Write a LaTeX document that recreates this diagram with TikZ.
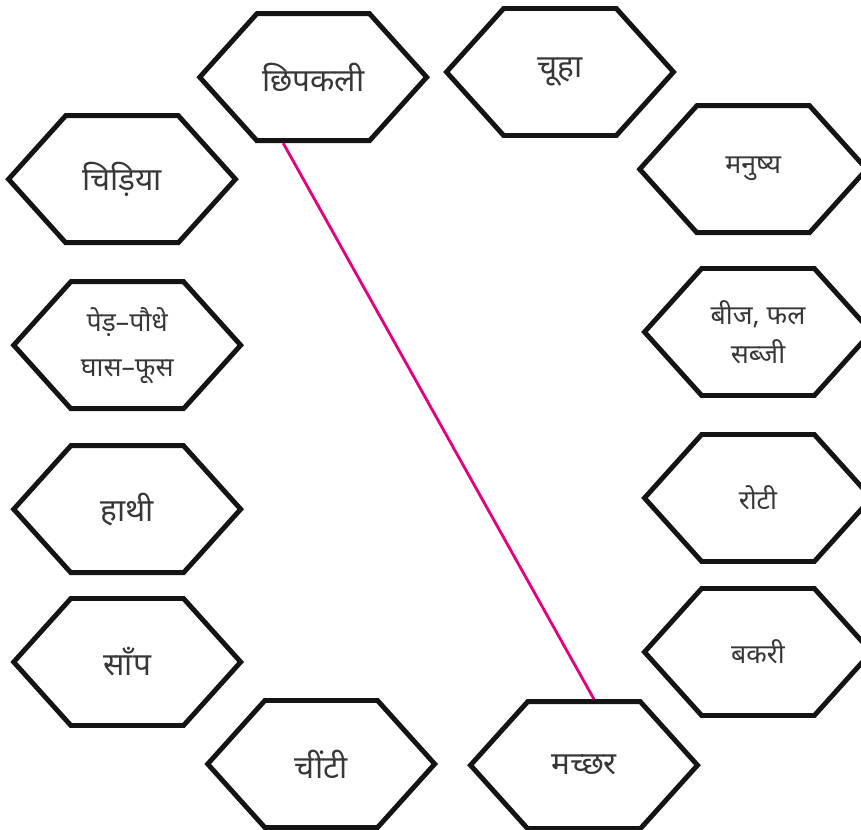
\documentclass[tikz,border=0pt]{standalone}
\usepackage{fontspec}
\newfontfamily\hindi[Script=Devanagari]{Noto Sans}
\usetikzlibrary{shapes.symbols}
\definecolor{linkpink}{RGB}{230,0,126}
\definecolor{inkgray}{RGB}{55,55,55}
\tikzset{
  hexa/.style={shape=signal, signal to=west and east, signal pointer angle=96,
    draw=black!92, line width=3.5pt, minimum width=5.675cm, minimum height=3.175cm,
    inner sep=0pt, text=inkgray, align=center, font=\hindi\fontsize{22.5}{27}\selectfont},
  smalltext/.style={font=\hindi\fontsize{19}{28}\selectfont},
  link/.style={linkpink, line width=2pt}
}

\begin{document}
\begin{tikzpicture}
	\clip (0,0) rectangle (21.525,-20.75);
	% left column
	\node[hexa] (chipkali) at (7.83,-1.93) {छिपकली};
	\node[hexa] (chidiya) at (3.05,-4.48) {चिड़िया};
	\node[hexa,smalltext] (pedpaudhe) at (3.18,-8.63) {पेड़–पौधे\\[4pt]घास–फूस};
	\node[hexa] (haathi) at (3.18,-12.73) {हाथी};
	\node[hexa] (saanp) at (3.18,-16.55) {साँप};
	\node[hexa] (cheenti) at (8.03,-19.1) {चींटी};
	% right column
	\node[hexa] (chuha) at (14.0,-1.8) {चूहा};
	\node[hexa,smalltext] (manushya) at (18.83,-4.23) {मनुष्य};
	\node[hexa,smalltext] (beej) at (18.95,-8.3) {बीज, फल\\सब्जी};
	\node[hexa,smalltext] (roti) at (18.95,-12.45) {रोटी};
	\node[hexa,smalltext] (bakri) at (18.95,-16.3) {बकरी};
	\node[hexa] (macchar) at (14.6,-19.13) {मच्छर};
	% match
	\draw[link] ([xshift=-0.75cm]chipkali.south) -- ([xshift=0.25cm]macchar.north);
\end{tikzpicture}
\end{document}
